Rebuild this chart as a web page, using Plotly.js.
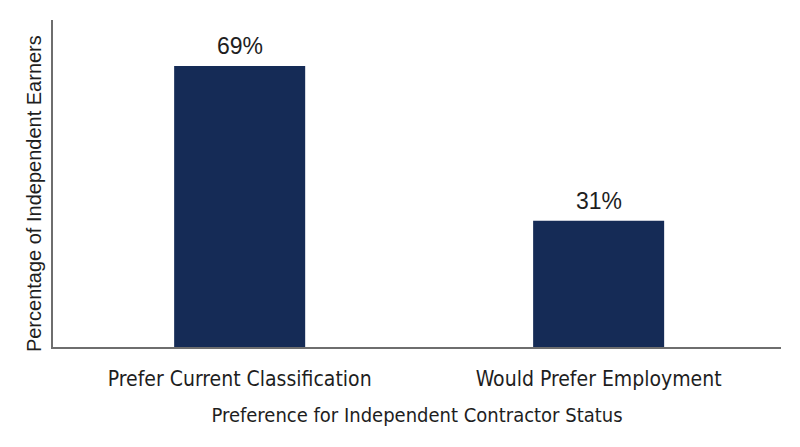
<!DOCTYPE html>
<html>
<head>
<meta charset="utf-8">
<script src="https://cdn.plot.ly/plotly-3.0.1.min.js"></script>
<style>
  html, body { margin: 0; padding: 0; background: #fff; }
  #myDiv { width: 800px; height: 447px; }
</style>
</head>
<body>
<div id="myDiv"></div>
<script>
var categories = ["Prefer Current Classification", "Would Prefer Employment"];
var shares = [69, 31];
var shareLabels = ["69%", "31%"];

var bars = {
    x: categories,
    y: shares,
    type: "bar",
    marker: {
        color: "rgb(21, 43, 86)",
    },
    hoverinfo: "none",
};

// value labels sit a little higher above the bars than plotly's "outside" text
var labels = categories.map(function (c, i) {
    return {
        x: c,
        y: shares[i],
        text: shareLabels[i],
        showarrow: false,
        yanchor: "bottom",
        yshift: 5,
        font: {
            family: "Liberation Sans, Arial, sans-serif",
            size: 23,
            color: "rgb(30, 30, 30)",
        },
    };
});

// y title as an annotation: the original sits a bit below the plot centre
labels.push({
    xref: "paper",
    yref: "paper",
    x: -0.025,
    y: 0.47,
    xanchor: "center",
    yanchor: "middle",
    textangle: -90,
    showarrow: false,
    text: "Percentage of Independent Earners",
    font: {
        family: "Liberation Sans, Arial, sans-serif",
        size: 20,
        color: "rgb(30, 30, 30)",
    },
});

var condensed = "DejaVu Sans Condensed, Liberation Sans Narrow, sans-serif";

Plotly.newPlot('myDiv', {
    "data": [bars],
    "layout": {
        width: 800,
        height: 447,
        showlegend: false,
        bargap: 0.635,
        paper_bgcolor: "#fff",
        plot_bgcolor: "#fff",
        annotations: labels,
        margin: {
            l: 53,
            r: 19,
            t: 20,
            b: 100
        },
        xaxis: {
            range: [-0.52, 1.508],
            showline: true,
            linecolor: "rgb(110, 110, 110)",
            linewidth: 2,
            ticks: "",
            ticklabelstandoff: 12,
            tickfont: {
                family: condensed,
                size: 21,
                color: "rgb(30, 30, 30)",
            },
            title: {
                text: "Preference for Independent Contractor Status",
                standoff: 18,
                font: {
                    family: condensed,
                    size: 20,
                    color: "rgb(30, 30, 30)",
                },
            },
        },
        yaxis: {
            range: [0, 80.3],
            showline: true,
            linecolor: "rgb(110, 110, 110)",
            linewidth: 2,
            showgrid: false,
            zeroline: false,
            showticklabels: false,
            ticks: "",
        },
        hovermode: false
    },
    "config": {
        displayModeBar: false,
        staticPlot: true
    }
});
</script>
</body>
</html>
